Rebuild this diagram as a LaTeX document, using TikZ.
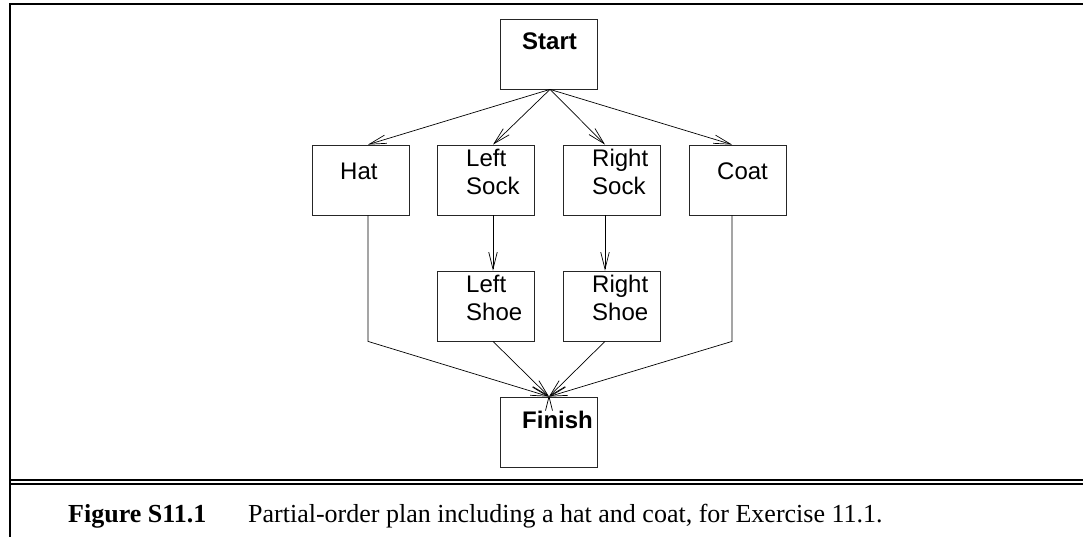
\documentclass[tikz,border=0pt]{standalone}
\usepackage{fontspec}
\setmainfont{Liberation Serif}
\newfontfamily\arialf{Liberation Sans}
\usetikzlibrary{arrows.meta}
\tikzset{
  box/.style={draw=black!85, line width=0.8pt, minimum width=97pt, minimum height=70pt, inner sep=0pt},
  lbl/.style={font=\arialf\fontsize{24}{28}\selectfont, inner sep=0pt, anchor=base west},
  blbl/.style={font=\arialf\bfseries\fontsize{24}{28}\selectfont, inner sep=0pt, anchor=base west},
  conn/.style={line width=0.7pt},
  arr/.style={conn, -{Straight Barb[length=17pt,width=8.5pt,line width=0.7pt]}},
  frame/.style={line width=2.4pt},
  captxt/.style={font=\fontsize{26}{30}\selectfont, inner sep=0pt, anchor=base west}
}
\begin{document}
\begin{tikzpicture}[x=1pt,y=-1pt]
\useasboundingbox (0,0) rectangle (1083,537);
% frame
\draw[frame] (10,537) -- (10,4) -- (1083,4);
\draw[line width=1.8pt] (10,480) -- (1083,480);
\draw[line width=1.8pt] (10,483.8) -- (1083,483.8);
% boxes
\node[box] (start) at (549,54) {};
\node[box] (hat) at (360.5,180) {};
\node[box] (lsock) at (486,180) {};
\node[box] (rsock) at (612,180) {};
\node[box] (coat) at (738,180) {};
\node[box] (lshoe) at (486,306) {};
\node[box] (rshoe) at (612,306) {};
\node[box] (finish) at (549,432) {};
% labels
\node[blbl] (startT) at (522,50) {Start};
\node[lbl] (hatT) at (340,180) {Hat};
\node[lbl, align=left] (lsockT) at (466,195) {Left\\Sock};
\node[lbl, align=left] (rsockT) at (592,195) {Right\\Sock};
\node[lbl] (coatT) at (717,180) {Coat};
\node[lbl, align=left] (lshoeT) at (466,320) {Left\\Shoe};
\node[lbl, align=left] (rshoeT) at (592,320) {Right\\Shoe};
\node[blbl] (finishT) at (522,428) {Finish};
% connectors
\coordinate (apex) at ([xshift=1pt]start.south);
\draw[arr] (apex) -- ([xshift=7.5pt]hat.north);
\draw[arr] (apex) -- ([xshift=7pt]lsock.north);
\draw[arr] (apex) -- ([xshift=-7pt]rsock.north);
\draw[arr] (apex) -- ([xshift=-6pt]coat.north);
\draw[arr] ([xshift=7pt]lsock.south) -- ([xshift=7pt]lshoe.north);
\draw[arr] ([xshift=-7pt]rsock.south) -- ([xshift=-7pt]rshoe.north);
\coordinate (hatbend) at ([xshift=7.5pt]hat.south |- lshoe.south);
\coordinate (coatbend) at ([xshift=-6pt]coat.south |- rshoe.south);
\draw[arr] ([xshift=7.5pt]hat.south) -- (hatbend) -- (finish.north);
\draw[arr] ([xshift=-6pt]coat.south) -- (coatbend) -- (finish.north);
\draw[arr] ([xshift=7pt]lshoe.south) -- (finish.north);
\draw[arr] ([xshift=-7pt]rshoe.south) -- (finish.north);
\draw[conn] ([shift={(-3.5pt,-14pt)}]finish.north) -- (finish.north) -- ([shift={(3.5pt,-14pt)}]finish.north);
% caption
\node[captxt] (capA) at (68,522) {\textbf{Figure S11.1}};
\node[captxt] (capB) at (248,522) {Partial-order plan including a hat and coat, for Exercise 11.1.};
\end{tikzpicture}
\end{document}
